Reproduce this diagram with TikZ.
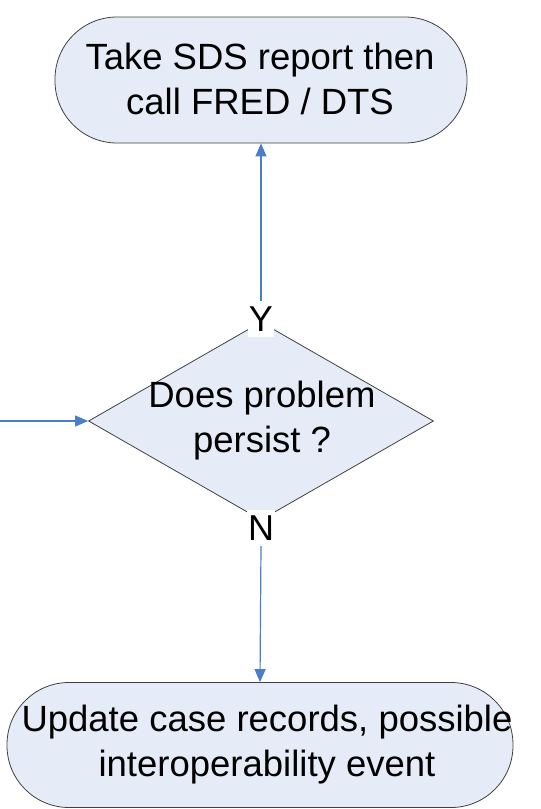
\documentclass[tikz,border=0pt]{standalone}
\usepackage{fontspec}
\setmainfont{Liberation Sans}
\usetikzlibrary{shapes.geometric,arrows.meta}
\definecolor{boxfill}{HTML}{E6ECF7}
\definecolor{boxline}{HTML}{404040}
\definecolor{arrowblue}{HTML}{4A7EC8}
\begin{document}
\begin{tikzpicture}[x=1pt,y=-1pt,
  txt/.style={font=\fontsize{36.5}{45}\selectfont, align=center},
  terminal/.style={draw=boxline, fill=boxfill, line width=0.8pt, inner sep=0pt},
  decision/.style={diamond, draw=boxline, fill=boxfill, line width=0.8pt, inner sep=0pt, minimum width=345pt, minimum height=198pt},
  yn/.style={fill=white, inner sep=1pt, minimum width=23pt, minimum height=36pt, font=\fontsize{36}{40}\selectfont},
  conn/.style={draw=arrowblue, line width=1.2pt, -{Triangle[length=13pt,width=11pt]}}]
\useasboundingbox (0,0) rectangle (541,809);
% top terminal
\node[terminal, minimum width=412pt, minimum height=126pt, rounded corners=62pt] (top) at (261,80) {};
\node[txt] (toptxt) at (260,79) {Take SDS report then\\call FRED / DTS};
% decision
\node[decision] (dec) at (261,421) {};
\node[txt] (dectxt) at (262,421) {Does problem\\persist ?};
% labels
\node[yn] (Y) at (261,319) {Y};
\node[yn] (N) at (261,528) {N};
% bottom terminal
\node[terminal, minimum width=506pt, minimum height=125pt, rounded corners=62pt] (bot) at (260,745) {};
\node[txt] (bottxt) at (267,745) {Update case records, possible\\interoperability event};
% connectors
\coordinate (inlet) at (0,421);
\draw[conn] (Y.north) -- (top.south);
\draw[conn] (N.south) -- (bot.north);
\draw[conn] (inlet) -- (dec.west);
\end{tikzpicture}
\end{document}
